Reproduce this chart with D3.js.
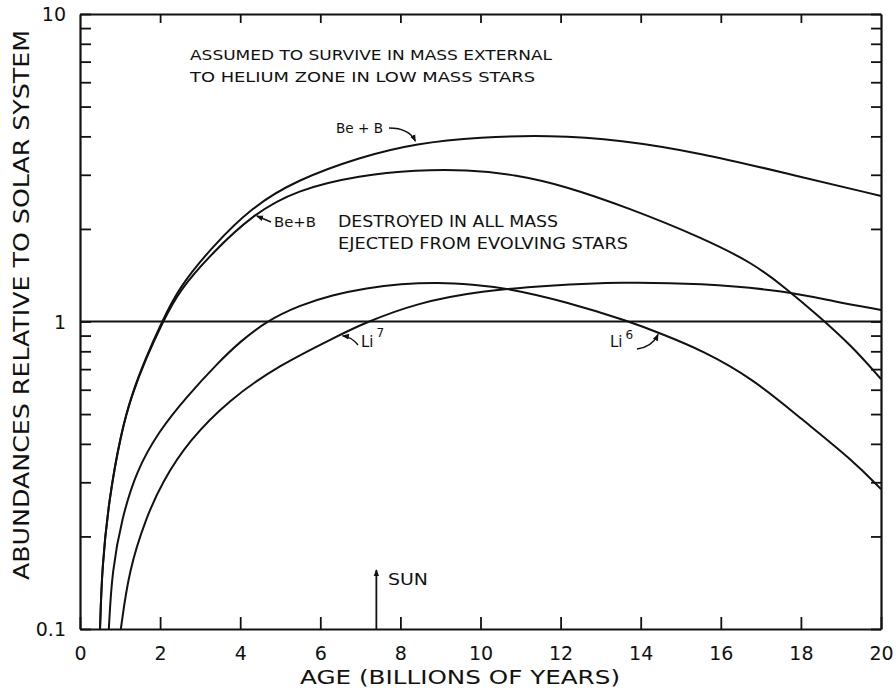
<!DOCTYPE html>
<html>
<head>
<meta charset="utf-8">
<script src="https://cdn.jsdelivr.net/npm/d3@7"></script>
<style>
  body { margin: 0; background: #fff; }
  text { font-family: "DejaVu Sans", sans-serif; fill: #111; }
</style>
</head>
<body>
<div id="canvas"></div>
<script>
// --- data (age in Gyr, abundance relative to solar system)
var beBSurvive = [[0.5,0.1],[0.55,0.159],[0.72,0.263],[1.02,0.434],[1.3,0.585],[1.65,0.767],[2.05,1.0],
  [2.47,1.29],[3.3,1.75],[4.3,2.36],[5.4,2.88],[7.0,3.43],[8.4,3.80],[10.0,3.98],[11.7,4.04],
  [13.5,3.90],[15.5,3.53],[17.6,3.04],[20,2.56]];
var beBDestroyed = [[0.5,0.1],[0.55,0.159],[0.72,0.262],[1.02,0.432],[1.3,0.58],[1.65,0.76],[2.05,0.985],
  [2.47,1.26],[3.3,1.67],[4.3,2.22],[5.4,2.68],[7.0,2.99],[8.4,3.11],[9.65,3.12],[10.9,3.0],
  [12.1,2.76],[13.7,2.34],[15.5,1.88],[16.8,1.55],[17.6,1.29],[18.45,1.04],[19.28,0.83],[20,0.65]];
var li6 = [[0.72,0.1],[0.8,0.155],[1.05,0.23],[1.4,0.325],[1.97,0.44],[2.64,0.565],[3.47,0.74],
  [4.0,0.86],[4.64,1.0],[5.49,1.13],[6.3,1.22],[7.16,1.285],[8.0,1.325],[8.95,1.34],[9.8,1.32],
  [10.65,1.285],[12.14,1.16],[13.72,1.0],[14.54,0.91],[15.54,0.805],[16.78,0.655],[18.03,0.48],
  [19.28,0.355],[20,0.285]];
var li7 = [[1.02,0.1],[1.22,0.155],[1.65,0.23],[2.05,0.3],[2.72,0.41],[3.72,0.556],[4.96,0.72],
  [6.46,0.9],[7.03,0.98],[8.4,1.15],[10.05,1.26],[11.72,1.31],[13.5,1.345],[15.5,1.33],
  [17.6,1.26],[18.85,1.16],[20,1.09]];
var series = [beBSurvive, beBDestroyed, li6, li7];

var ageTicks = [0,2,4,6,8,10,12,14,16,18,20];
var yMajor = [0.1, 1, 10];
var yLabels = ["0.1", "1", "10"];
var yMinor = [0.2,0.3,0.4,0.5,0.6,0.7,0.8,0.9,2,3,4,5,6,7,8,9];
var sunAge = 7.4;

// --- margin convention
var W = 896, H = 695;
var M = {top:14, right:15, bottom:66, left:80};
var x0 = M.left, x1 = W - M.right, y0 = H - M.bottom, y1 = M.top;

var svg = d3.select('#canvas').append('svg')
  .attr('width', W).attr('height', H);

var x = d3.scaleLinear().domain([0, 20]).range([x0, x1]);
var y = d3.scaleLog().domain([0.1, 10]).range([y0, y1]);

// --- axes (ticks inward)
var yTicks = yMajor.concat(yMinor);
var fmtY = function(d){ var i = yMajor.indexOf(d); return i < 0 ? "" : yLabels[i]; };

var gB = svg.append('g').attr('transform','translate(0,' + y0 + ')')
  .call(d3.axisBottom(x).tickValues(ageTicks).tickSizeInner(-12).tickSizeOuter(0).tickPadding(18)
    .tickFormat(function(d){ return d; }));
var gT = svg.append('g').attr('transform','translate(0,' + y1 + ')')
  .call(d3.axisTop(x).tickValues(ageTicks.slice(1, -1)).tickSizeInner(-9).tickSizeOuter(0).tickFormat(""));
var gL = svg.append('g').attr('transform','translate(' + x0 + ',0)')
  .call(d3.axisLeft(y).tickValues(yTicks).tickSizeInner(-11).tickSizeOuter(0).tickPadding(14).tickFormat(fmtY));
var gR = svg.append('g').attr('transform','translate(' + x1 + ',0)')
  .call(d3.axisRight(y).tickValues(yTicks).tickSizeInner(-10).tickSizeOuter(0).tickFormat(""));

[gB, gT, gL, gR].forEach(function(g){
  g.selectAll('path.domain').attr('stroke', '#111').attr('stroke-width', 2.2);
  g.selectAll('line').attr('stroke', '#111').attr('stroke-width', 1.8);
  g.selectAll('text').attr('font-size', 19).attr('fill', '#111')
    .style('font-family', '"DejaVu Sans", sans-serif');
});
gL.selectAll('text').attr('dy', '0.36em');

// --- reference line at 1
svg.append('line')
  .attr('x1', x0).attr('x2', x1).attr('y1', y(1)).attr('y2', y(1))
  .attr('stroke', '#111').attr('stroke-width', 1.8);

// --- curves
var line = d3.line()
  .x(function(d){ return x(d[0]); })
  .y(function(d){ return y(d[1]); })
  .curve(d3.curveBasis);

svg.selectAll('path.curve').data(series).enter().append('path')
  .attr('class', 'curve')
  .attr('d', line)
  .attr('fill', 'none')
  .attr('stroke', '#111')
  .attr('stroke-width', 2);

// --- arrowhead marker
svg.append('defs').append('marker')
  .attr('id', 'ah').attr('viewBox', '0 0 10 10')
  .attr('refX', 9).attr('refY', 5)
  .attr('markerWidth', 7).attr('markerHeight', 7)
  .attr('markerUnits', 'userSpaceOnUse')
  .attr('orient', 'auto')
  .append('path').attr('d', 'M0,1 L10,5 L0,9 Z').attr('fill', '#111');

function arrow(d) {
  svg.append('path').attr('d', d)
    .attr('fill', 'none').attr('stroke', '#111').attr('stroke-width', 1.4)
    .attr('marker-end', 'url(#ah)');
}

// labels with arrows pointing at curves
var hA = [x(8.4), y(3.80)], hB = [x(4.39), y(2.22)];
var h7 = [x(6.53), y(0.905)], h6 = [x(14.46), y(0.915)];
arrow('M389,128 Q409,128 ' + (hA[0] - 1) + ',' + (hA[1] - 2));
arrow('M271,222 L' + (hB[0] + 1) + ',' + (hB[1] + 1));
arrow('M358,345 Q352,337 ' + (h7[0] + 1) + ',' + (h7[1] + 1));
arrow('M637,349 Q652,347 ' + (h6[0] - 1) + ',' + (h6[1] + 1));

// sun arrow
svg.append('line')
  .attr('x1', x(sunAge)).attr('x2', x(sunAge))
  .attr('y1', y0).attr('y2', 570)
  .attr('stroke', '#111').attr('stroke-width', 1.8)
  .attr('marker-end', 'url(#ah)');

// --- texts
function txt(s, tx, ty, size, len) {
  var t = svg.append('text').attr('x', tx).attr('y', ty).attr('font-size', size).text(s);
  if (len) t.attr('textLength', len).attr('lengthAdjust', 'spacingAndGlyphs');
  return t;
}
txt('ASSUMED TO SURVIVE IN MASS EXTERNAL', 190, 60, 14, 362);
txt('TO HELIUM ZONE IN LOW MASS STARS', 190, 82, 14, 345);
txt('Be + B', 336, 133, 14, 47);
txt('Be+B', 274, 227, 14, 42);
txt('DESTROYED IN ALL MASS', 338, 227, 15, 220);
txt('EJECTED FROM EVOLVING STARS', 338, 249, 15, 290);
txt('SUN', 388, 585, 16, 40);

var t7 = svg.append('text').attr('x', 361).attr('y', 347).attr('font-size', 15);
t7.append('tspan').text('Li');
t7.append('tspan').attr('dy', -10).attr('dx', 3).attr('font-size', 12).text('7');
var t6 = svg.append('text').attr('x', 610).attr('y', 347).attr('font-size', 15);
t6.append('tspan').text('Li');
t6.append('tspan').attr('dy', -8).attr('dx', 3).attr('font-size', 12).text('6');

// axis titles
txt('AGE (BILLIONS OF YEARS)', 300, 684, 19, 320);
svg.append('text')
  .attr('transform', 'translate(29,580) rotate(-90)')
  .attr('font-size', 21)
  .attr('textLength', 550).attr('lengthAdjust', 'spacingAndGlyphs')
  .text('ABUNDANCES RELATIVE TO SOLAR SYSTEM');
</script>
</body>
</html>
